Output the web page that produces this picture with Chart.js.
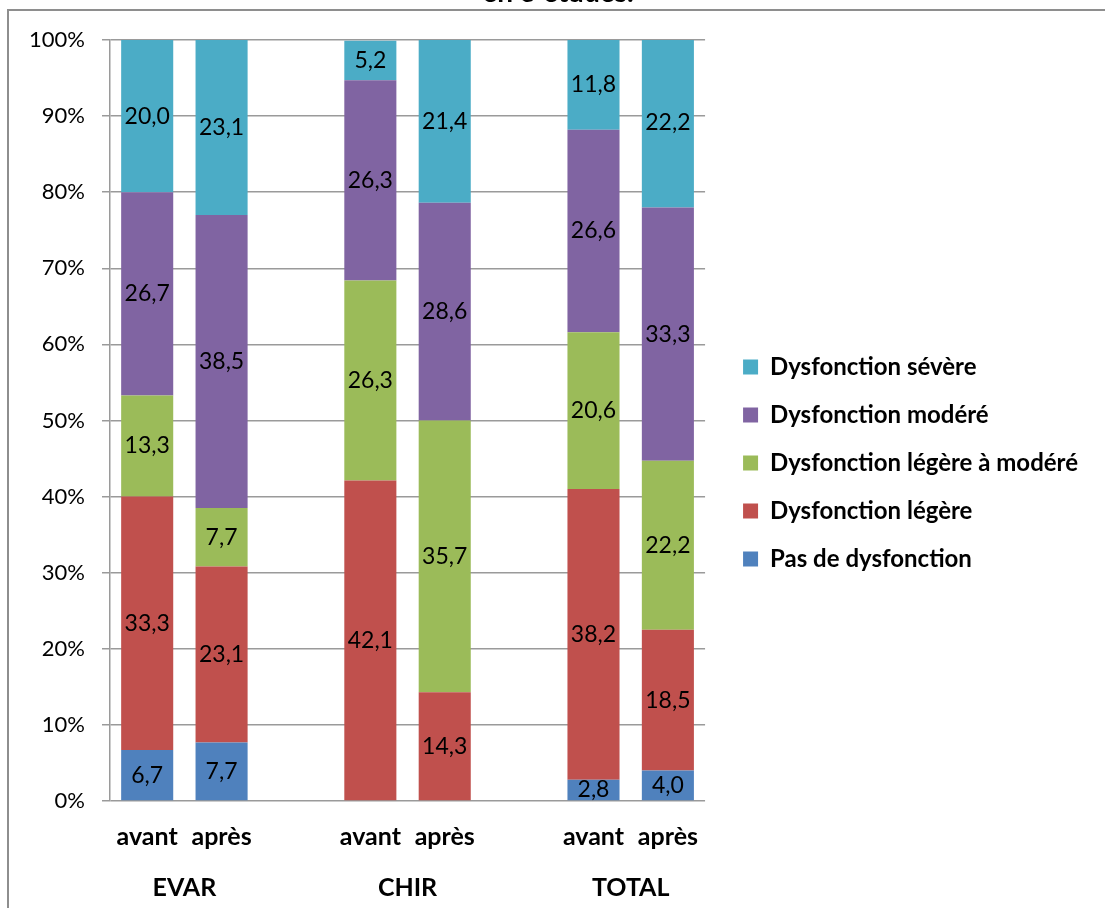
<!DOCTYPE html>
<html>
<head>
<meta charset="utf-8">
<script src="https://cdn.jsdelivr.net/npm/chart.js@4/dist/chart.umd.min.js"></script>
<style>
  body { margin: 0; overflow: hidden; background: #fff; }
  #frame { position: absolute; left: 7px; top: 9px; width: 1200px; height: 1000px; border: 2px solid #8e8e8e; }
  #wrap { position: absolute; left: 28px; top: -24px; width: 1060px; height: 974px; }
</style>
</head>
<body>
<div id="frame"></div>
<div id="wrap"><canvas id="canvas"></canvas></div>
<script>
// categories (blank entries make the gaps between groups)
var categories = ['avant', 'après', '', 'avant', 'après', '', 'avant', 'après'];
var groups = ['EVAR', 'CHIR', 'TOTAL'];
var yTicks = [0, 10, 20, 30, 40, 50, 60, 70, 80, 90, 100];

// values in %, bottom to top
var pasDysfonction   = [6.7, 7.7, null, 0, 0, null, 2.8, 4.0];
var dysLegere        = [33.3, 23.1, null, 42.1, 14.3, null, 38.2, 18.5];
var dysLegereModere  = [13.3, 7.7, null, 26.3, 35.7, null, 20.6, 22.2];
var dysModere        = [26.7, 38.5, null, 26.3, 28.6, null, 26.6, 33.3];
var dysSevere        = [20.0, 23.1, null, 5.2, 21.4, null, 11.8, 22.2];

var FONT = 'Lato';

function fmt(v) {
	return v.toFixed(1).replace('.', ',');
}

// value labels centered in each segment
var valueLabels = {
	id: 'valueLabels',
	afterDatasetsDraw: function(chart) {
		var ctx = chart.ctx;
		ctx.save();
		ctx.font = '23px ' + FONT;
		ctx.fillStyle = '#000';
		ctx.textAlign = 'center';
		ctx.textBaseline = 'middle';
		chart.data.datasets.forEach(function(ds, i) {
			var meta = chart.getDatasetMeta(i);
			meta.data.forEach(function(bar, j) {
				var v = ds.data[j];
				if (!v) return;
				var p = bar.getProps(['x', 'y', 'base'], true);
				ctx.fillText(fmt(v), p.x, (p.y + p.base) / 2);
			});
		});
		ctx.restore();
	}
};

function ds(label, data, color) {
	return {
		label: label,
		data: data,
		xAxisID: 'x',
		yAxisID: 'y',
		backgroundColor: color,
		borderWidth: 0,
		barPercentage: 0.7,
		categoryPercentage: 1
	};
}

var ctx = document.getElementById('canvas').getContext('2d');
window.myBar = new Chart(ctx, {
	type: 'bar',
	data: {
		labels: categories,
		datasets: [
			ds('Pas de dysfonction', pasDysfonction, '#4F81BD'),
			ds('Dysfonction légère', dysLegere, '#C0504D'),
			ds('Dysfonction légère à modéré', dysLegereModere, '#9BBB59'),
			ds('Dysfonction modéré', dysModere, '#8064A2'),
			ds('Dysfonction sévère', dysSevere, '#4BACC6')
		]
	},
	plugins: [valueLabels],
	options: {
		responsive: true,
		maintainAspectRatio: false,
		animation: false,
		layout: { padding: 0 },
		plugins: {
			title: {
				display: true,
				text: 'en 3 études.',
				color: '#000',
				font: { family: FONT, size: 28, weight: 'bold' },
				padding: { top: 0, bottom: 30.4 }
			},
			legend: {
				position: 'right',
				reverse: true,
				maxWidth: 1000,
				labels: {
					color: '#000',
					font: { family: FONT, size: 24, weight: 'bold' },
					boxWidth: 15,
					boxHeight: 15,
					padding: 24
				}
			},
			tooltip: { enabled: false }
		},
		scales: {
			x: {
				stacked: true,
				weight: 0,
				grid: { display: false, drawTicks: false },
				border: { display: false },
				ticks: {
					color: '#000',
					padding: 21,
					maxRotation: 0,
					autoSkip: false,
					font: { family: FONT, size: 25, weight: 'bold' }
				}
			},
			xg: {
				type: 'linear',
				position: 'bottom',
				weight: 1,
				offset: false,
				min: -0.5,
				max: categories.length - 0.5,
				grid: { display: false, drawTicks: false },
				border: { display: false },
				afterBuildTicks: function(scale) {
					scale.ticks = groups.map(function(g, i) { return { value: i * 3 + 0.5 }; });
				},
				afterFit: function(scale) { scale.height = 77; },
				ticks: {
					color: '#000',
					padding: 0,
					autoSkip: false,
					maxRotation: 0,
					font: { family: FONT, size: 25, weight: 'bold' },
					callback: function(v) { return groups[Math.round((v - 0.5) / 3)]; }
				}
			},
			gap: {
				type: 'linear',
				position: 'right',
				display: true,
				grid: { display: false, drawTicks: false },
				border: { display: false },
				ticks: { display: false },
				afterFit: function(scale) { scale.width = 14; }
			},
			y: {
				stacked: true,
				min: 0,
				max: 100,
				afterBuildTicks: function(scale) {
					scale.ticks = yTicks.map(function(v) { return { value: v }; });
				},
				afterFit: function(scale) { scale.width = 82; },
				grid: { color: '#9a9a9a', lineWidth: 1.5, tickLength: 8 },
				border: { color: '#9a9a9a', width: 1.5 },
				ticks: {
					color: '#000',
					padding: 17,
					font: { family: FONT, size: 22 },
					callback: function(v) { return v + '%'; }
				}
			}
		}
	}
});
</script>
</body>
</html>
